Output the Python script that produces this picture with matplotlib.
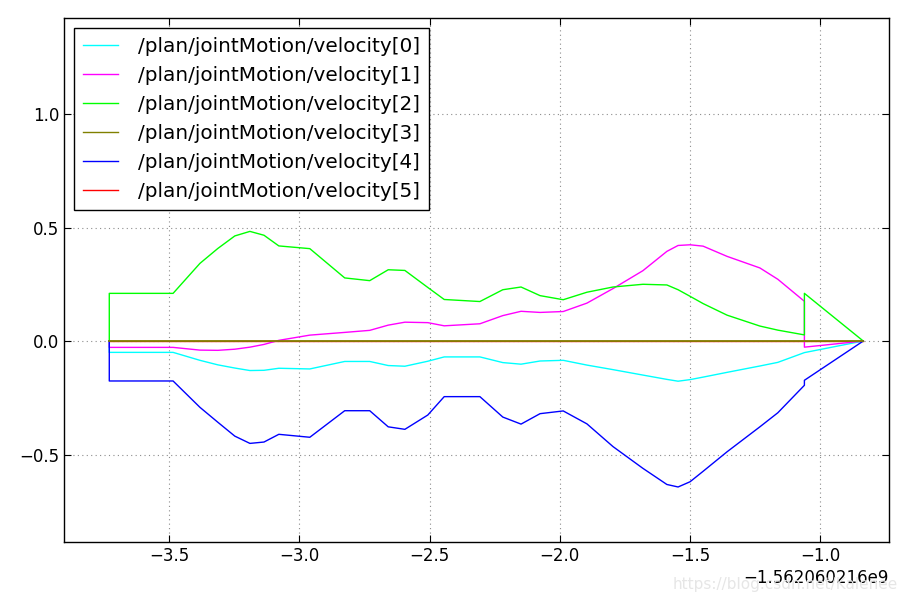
import numpy as np
import matplotlib
matplotlib.use('Agg')
import matplotlib.pyplot as plt

# time stamps (seconds, relative to the offset shown under the x axis)
t_offset = -1562060216.0
t = [-3.730, -3.730, -3.485, -3.382, -3.313, -3.248, -3.190, -3.136, -3.079,
     -2.960, -2.826, -2.730, -2.659, -2.595, -2.507, -2.444, -2.307, -2.219,
     -2.149, -2.076, -1.987, -1.896, -1.796, -1.681, -1.589, -1.546, -1.500,
     -1.450, -1.358, -1.232, -1.163, -1.061, -1.061, -0.835]

vel0 = [0, -0.050, -0.050, -0.085, -0.105, -0.119, -0.130, -0.129, -0.120,
        -0.123, -0.090, -0.090, -0.108, -0.111, -0.089, -0.070, -0.070, -0.095,
        -0.102, -0.088, -0.085, -0.106, -0.126, -0.150, -0.169, -0.177, -0.170,
        -0.159, -0.138, -0.110, -0.094, -0.051, -0.051, 0]
vel1 = [0, -0.028, -0.028, -0.040, -0.041, -0.036, -0.027, -0.015, 0.003,
        0.026, 0.038, 0.047, 0.070, 0.083, 0.081, 0.067, 0.076, 0.112,
        0.131, 0.126, 0.130, 0.167, 0.231, 0.310, 0.395, 0.421, 0.424,
        0.418, 0.373, 0.322, 0.272, 0.175, -0.027, 0]
vel2 = [0, 0.210, 0.210, 0.342, 0.408, 0.463, 0.483, 0.466, 0.419,
        0.407, 0.278, 0.266, 0.314, 0.311, 0.236, 0.183, 0.174, 0.226,
        0.238, 0.200, 0.182, 0.215, 0.238, 0.250, 0.247, 0.226, 0.197,
        0.165, 0.114, 0.066, 0.048, 0.027, 0.210, 0]
vel3 = [0.0] * len(t)
vel4 = [0, -0.176, -0.176, -0.292, -0.358, -0.419, -0.451, -0.445, -0.411,
        -0.424, -0.307, -0.307, -0.378, -0.389, -0.326, -0.245, -0.245, -0.335,
        -0.366, -0.320, -0.308, -0.365, -0.465, -0.561, -0.632, -0.643, -0.620,
        -0.574, -0.488, -0.378, -0.316, -0.195, -0.173, 0]
vel5 = [0.0] * len(t)

names = ['/plan/jointMotion/velocity[%d]' % i for i in range(6)]
colors = ['#00ffff', '#ff00ff', '#00ff00', '#808000', '#0000ff', '#ff0000']
series = [vel0, vel1, vel2, vel3, vel4, vel5]
zorders = [3, 3, 3, 4, 3, 2]
widths = [1.0, 1.0, 1.0, 1.3, 1.0, 1.0]

x = t_offset + np.array(t)

fig = plt.figure(figsize=(9.06, 6.01), dpi=100)
ax = fig.add_axes([0.0706, 0.0987, 0.9104, 0.8713])

for y, c, n, z, w in zip(series, colors, names, zorders, widths):
    ax.plot(x, y, color=c, lw=w, label=n, zorder=z)

ax.set_xlim(t_offset - 3.904, t_offset - 0.737)
ax.set_ylim(-0.884, 1.423)
ax.set_yticks([-0.5, 0.0, 0.5, 1.0])
ax.xaxis.get_major_formatter().set_useOffset(t_offset)

ax.grid(True, color='0.55', linestyle=(0, (1, 3)), linewidth=0.8)
ax.tick_params(direction='in', top=True, right=True, length=5, labelsize=12)
for s in ax.spines.values():
    s.set_linewidth(1.0)
ax.xaxis.get_offset_text().set_fontsize(12)

leg = ax.legend(loc='upper left', fontsize=14.4, fancybox=False, framealpha=1,
                edgecolor='k', labelspacing=0.5, handlelength=1.75,
                handletextpad=1.0, borderpad=0.45, borderaxespad=0.5)
leg.get_frame().set_linewidth(1.0)
for h in leg.get_lines():
    h.set_linewidth(1.0)

fig.text(0.991, 0.028, 'https://blog.csdn.net/Kalenee', color='#e6e6e6',
         fontsize=11, ha='right', va='center')

fig.savefig('out.png', dpi=100)
